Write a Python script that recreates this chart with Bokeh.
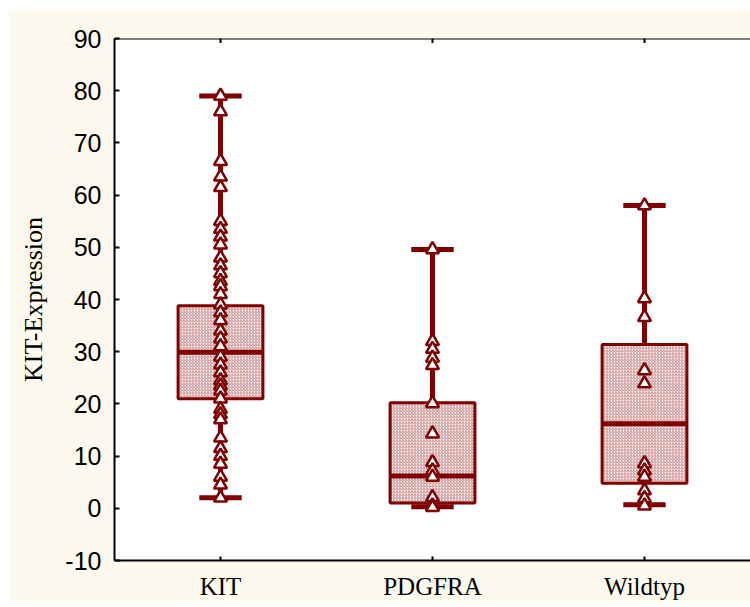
import math
from bokeh.plotting import figure
from bokeh.models import (Range1d, FactorRange, FixedTicker, ColumnDataSource,
                          Span)
from bokeh.embed import file_html
from bokeh.resources import INLINE

# ---- data ----
categories = ["KIT", "PDGFRA", "Wildtyp"]
q1 = [21.0, 1.0, 4.8]
median = [29.9, 6.2, 16.2]
q3 = [38.8, 20.2, 31.4]
whisker_low = [2.0, 0.3, 0.7]
whisker_high = [79.0, 49.6, 58.0]

kit_values = [79, 76, 66.5, 63.5, 61.5, 55, 53.5, 52, 50.5, 48, 46.5, 45,
              43.5, 42.5, 41, 39, 37.5, 36, 34, 32.5, 31, 29, 27.5, 26, 24.5,
              23.5, 22.5, 21, 19, 18, 17, 13.5, 11.5, 10, 8.5, 6, 4.5, 2]
pdgfra_values = [49.6, 32, 30.5, 28.8, 27.4, 20.1, 14.3, 8.8, 7.2, 6.0,
                 2.1, 0.5, 0.2]
wildtyp_values = [58, 40.2, 36.6, 26.4, 23.9, 8.6, 7.2, 6.0, 3.4, 1.9, 0.5]

y_ticks = [-10, 0, 10, 20, 30, 40, 50, 60, 70, 80, 90]
y_label = "KIT-Expression"

MAROON = "#800000"
CREAM = "#fdf9ee"

p = figure(width=742, height=593, output_backend="svg", toolbar_location=None,
           x_range=FactorRange(*categories, range_padding=0),
           y_range=Range1d(y_ticks[0], y_ticks[-1]),
           min_border_left=106, min_border_top=28, min_border_bottom=43,
           min_border_right=0)
p.margin = (10, 0, 4, 8)
p.border_fill_color = CREAM
p.background_fill_color = "white"
p.outline_line_color = None
p.grid.visible = False

stats = ColumnDataSource(dict(cat=categories, q1=q1, q2=median, q3=q3,
                              lo=whisker_low, hi=whisker_high))

# whiskers
p.segment(x0="cat", y0="q3", x1="cat", y1="hi", source=stats,
          line_color=MAROON, line_width=5)
p.segment(x0="cat", y0="q1", x1="cat", y1="lo", source=stats,
          line_color=MAROON, line_width=5)
# caps
p.rect(x="cat", y="hi", width=0.2, height=5, height_units="screen",
       source=stats, fill_color=MAROON, line_color=None)
p.rect(x="cat", y="lo", width=0.2, height=5, height_units="screen",
       source=stats, fill_color=MAROON, line_color=None)
# boxes
p.vbar(x="cat", bottom="q1", top="q3", width=0.4, source=stats,
       fill_color="white", line_color=MAROON, line_width=3,
       hatch_pattern="/", hatch_color="#b85050", hatch_alpha=0.7,
       hatch_scale=3, hatch_weight=1)
# medians
p.rect(x="cat", y="q2", width=0.4, height=5, height_units="screen",
       source=stats, fill_color=MAROON, line_color=None)

# raw points
pts_x = (["KIT"] * len(kit_values) + ["PDGFRA"] * len(pdgfra_values)
         + ["Wildtyp"] * len(wildtyp_values))
pts_y = kit_values + pdgfra_values + wildtyp_values
p.scatter(x=pts_x, y=pts_y, marker="triangle", size=13, fill_color="white",
          line_color=MAROON, line_width=2.5)

# top frame line with inward category ticks
p.add_layout(Span(location=y_ticks[-1], dimension="width",
                  line_color="black", line_width=2))
p.scatter(x=categories, y=[y_ticks[-1]] * len(categories), marker="dash",
          angle=math.pi / 2, size=9, line_color="black", line_width=2)

# left axis
ya = p.yaxis[0]
ya.ticker = FixedTicker(ticks=y_ticks)
ya.major_label_overrides = {t: str(t) for t in y_ticks}
ya.minor_tick_line_color = None
ya.major_tick_in = 5
ya.major_tick_out = 0
ya.axis_line_width = 2
ya.major_tick_line_width = 2
ya.major_label_text_font = "Liberation Sans"
ya.major_label_text_font_size = "25px"
ya.major_label_text_color = "black"
ya.major_label_standoff = 13
ya.axis_label = y_label
ya.axis_label_text_font = "Liberation Serif"
ya.axis_label_text_font_style = "normal"
ya.axis_label_text_font_size = "26px"
ya.axis_label_text_color = "black"
ya.axis_label_standoff = 14

# bottom axis
xa = p.xaxis[0]
xa.major_tick_in = 4
xa.major_tick_out = 0
xa.axis_line_width = 2
xa.major_tick_line_width = 2
xa.major_label_text_font = "Liberation Serif"
xa.major_label_text_font_size = "25px"
xa.major_label_text_color = "black"
xa.major_label_standoff = 12

open("out.html", "w").write(file_html(p, INLINE))
